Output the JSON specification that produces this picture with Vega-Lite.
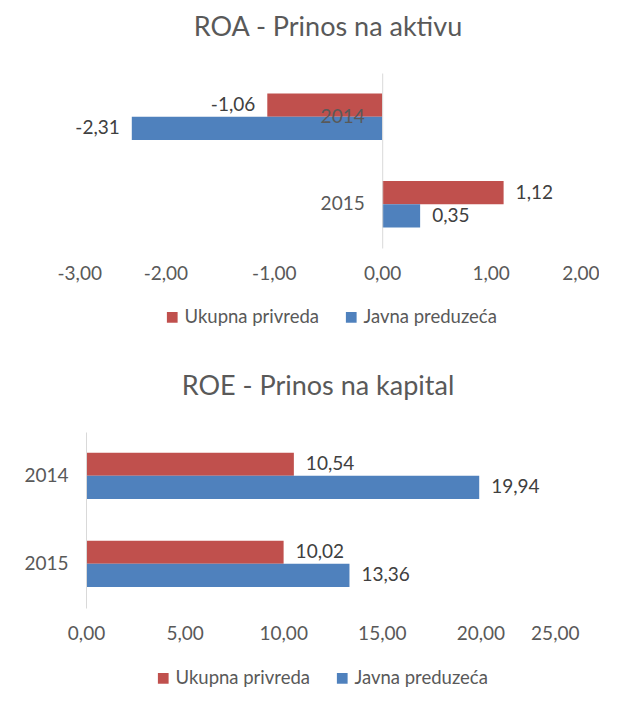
{
  "$schema": "https://vega.github.io/schema/vega-lite/v6.json",
  "padding": {"top": 14, "left": 23, "right": 0, "bottom": 0},
  "config": {
    "font": "Lato",
    "view": {"stroke": null},
    "locale": {"number": {"decimal": ",", "thousands": ".", "grouping": [3], "currency": ["", " €"], "minus": "-"}},
    "title": {"fontSize": 27, "fontWeight": "normal", "color": "#595959", "anchor": "middle", "font": "Lato"},
    "axis": {"labelFontSize": 19, "labelColor": "#595959", "labelFont": "Lato", "title": null, "ticks": false, "grid": false},
    "legend": {"labelFontSize": 18.5, "labelColor": "#595959", "labelFont": "Lato", "symbolType": "square", "symbolSize": 115, "symbolStrokeWidth": 0, "direction": "horizontal", "orient": "none", "columnPadding": 22, "labelOffset": 3},
    "text": {"fontSize": 19, "color": "#404040", "font": "Lato"}
  },
  "spacing": 46,
  "resolve": {"scale": {"x": "independent", "y": "independent", "color": "independent"}, "legend": {"color": "independent"}},
  "vconcat": [
    {
      "title": {"text": "ROA - Prinos na aktivu", "offset": 31},
      "width": 542,
      "height": 175,
      "data": {"values": [
        {"year": "2014", "series": "Ukupna privreda", "value": -1.06},
        {"year": "2014", "series": "Javna preduzeća", "value": -2.31},
        {"year": "2015", "series": "Ukupna privreda", "value": 1.12},
        {"year": "2015", "series": "Javna preduzeća", "value": 0.35}
      ]},
      "encoding": {
        "y": {"field": "year", "type": "nominal", "scale": {"paddingInner": 0.47, "paddingOuter": 0.235},
              "axis": {"offset": -325.2, "domainColor": "#d9d9d9", "labelPadding": 18, "zindex": 1, "labelAngle": 0}},
        "yOffset": {"field": "series", "type": "nominal", "sort": ["Ukupna privreda", "Javna preduzeća"], "scale": {"paddingInner": 0}},
        "x": {"field": "value", "type": "quantitative", "scale": {"domain": [-3, 2], "nice": false},
              "axis": {"values": [-3, -2, -1, 0, 1, 2], "format": ".2f", "domain": false, "labelPadding": 16}}
      },
      "layer": [
        {"mark": {"type": "bar"},
         "encoding": {"color": {"field": "series", "type": "nominal",
           "scale": {"domain": ["Ukupna privreda", "Javna preduzeća"], "range": ["#C0504D", "#4F81BD"]},
           "legend": {"title": null, "legendX": 106, "legendY": 235}}}},
        {"transform": [{"filter": "datum.value < 0"}],
         "mark": {"type": "text", "align": "right", "dx": -12},
         "encoding": {"text": {"field": "value", "type": "quantitative", "format": ".2f"}}},
        {"transform": [{"filter": "datum.value >= 0"}],
         "mark": {"type": "text", "align": "left", "dx": 12},
         "encoding": {"text": {"field": "value", "type": "quantitative", "format": ".2f"}}}
      ]
    },
    {
      "title": {"text": "ROE - Prinos na kapital", "offset": 31},
      "width": 522,
      "height": 176,
      "data": {"values": [
        {"year": "2014", "series": "Ukupna privreda", "value": 10.54},
        {"year": "2014", "series": "Javna preduzeća", "value": 19.94},
        {"year": "2015", "series": "Ukupna privreda", "value": 10.02},
        {"year": "2015", "series": "Javna preduzeća", "value": 13.36}
      ]},
      "encoding": {
        "y": {"field": "year", "type": "nominal", "scale": {"paddingInner": 0.47, "paddingOuter": 0.235},
              "axis": {"offset": -29, "domainColor": "#d9d9d9", "labelPadding": 18, "zindex": 1, "labelAngle": 0}},
        "yOffset": {"field": "series", "type": "nominal", "sort": ["Ukupna privreda", "Javna preduzeća"], "scale": {"paddingInner": 0}},
        "x": {"field": "value", "type": "quantitative", "scale": {"domain": [-1.472, 25], "nice": false},
              "axis": {"values": [0, 5, 10, 15, 20, 25], "format": ".2f", "domain": false, "labelPadding": 16}}
      },
      "layer": [
        {"mark": {"type": "bar"},
         "encoding": {"color": {"field": "series", "type": "nominal",
           "scale": {"domain": ["Ukupna privreda", "Javna preduzeća"], "range": ["#C0504D", "#4F81BD"]},
           "legend": {"title": null, "legendX": 97, "legendY": 237}}}},
        {"mark": {"type": "text", "align": "left", "dx": 12},
         "encoding": {"text": {"field": "value", "type": "quantitative", "format": ".2f"}}}
      ]
    }
  ]
}
